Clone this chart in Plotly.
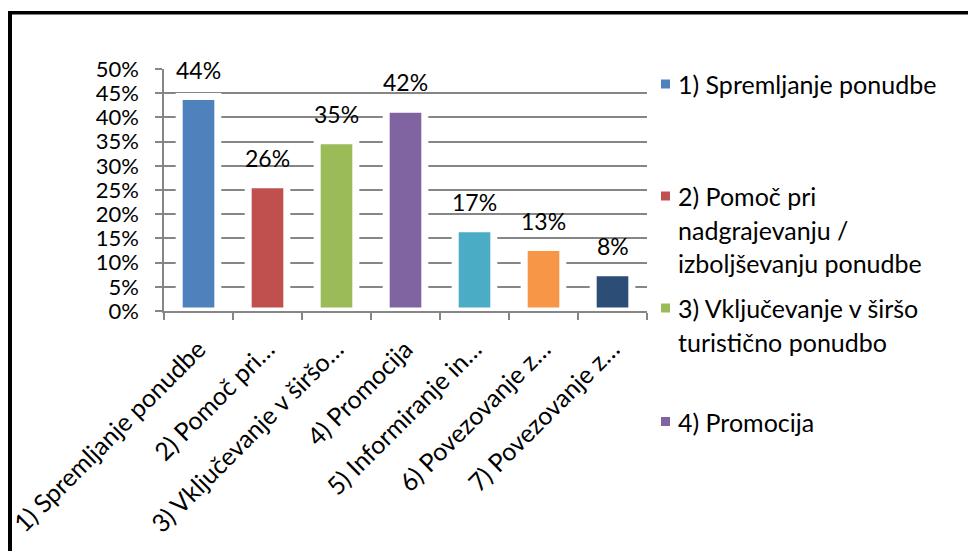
import plotly.graph_objects as go

# ---- data ----
categories = [
    "1) Spremljanje ponudbe",
    "2) Pomoč pri nadgrajevanju / izboljševanju ponudbe",
    "3) Vključevanje v širšo turistično ponudbo",
    "4) Promocija",
    "5) Informiranje in…",
    "6) Povezovanje z…",
    "7) Povezovanje z…",
]
tick_labels = [
    "1) Spremljanje ponudbe",
    "2) Pomoč pri…",
    "3) Vključevanje v širšo…",
    "4) Promocija",
    "5) Informiranje in…",
    "6) Povezovanje z…",
    "7) Povezovanje z…",
]
values = [0.443, 0.261, 0.352, 0.417, 0.170, 0.131, 0.079]
colors = ["#4F81BD", "#C0504D", "#9BBB59", "#8064A2", "#4BACC6", "#F79646", "#2C4D75"]
legend_lines = [
    ["1) Spremljanje ponudbe"],
    ["2) Pomoč pri", "nadgrajevanju /", "izboljševanju ponudbe"],
    ["3) Vključevanje v širšo", "turistično ponudbo"],
    ["4) Promocija"],
]
y_ticks = [i * 0.05 for i in range(11)]
y_tick_text = [f"{i*5}%" for i in range(11)]

# ---- layout geometry (page body adds an 8px offset) ----
OFF = 8
W, H = 976, 551
ML, MT = 164 - OFF, 69 - OFF
PW, PH = 483, 242
MR = W - ML - PW
MB = H - MT - PH
FONT = "Lato"
FS_Y = 22
FS_X = 25
FS_LBL = 23
FS_LEG = 25
GRID = "#868686"


def px(x):
    return (x - OFF - ML) / PW


def py(y):
    return (MT + PH - (y - OFF)) / PH


fig = go.Figure()
fig.add_trace(go.Bar(
    x=categories,
    y=values,
    marker=dict(color=colors, line=dict(color="white", width=7)),
    width=0.56,
    showlegend=False,
    hoverinfo="x+y",
))

annotations = []
for c, v in zip(categories, values):
    annotations.append(dict(
        x=c, y=v, xref="x", yref="y", text=f"{round(v*100):d}%",
        showarrow=False, yanchor="bottom", yshift=11,
        font=dict(family=FONT, size=FS_LBL, color="black"),
    ))

shapes = []
# manual legend (Excel shows only first four entries)
legend_first_y = [84, 196, 308, 421.5]
line_step = 33.5
for i, lines in enumerate(legend_lines):
    y0 = legend_first_y[i]
    shapes.append(dict(
        type="rect", xref="paper", yref="paper",
        x0=px(661), x1=px(670), y0=py(y0 - 4.5), y1=py(y0 + 4.5),
        fillcolor=colors[i], line=dict(width=0),
    ))
    for j, t in enumerate(lines):
        annotations.append(dict(
            x=px(676), y=py(y0 + j * line_step), xref="paper", yref="paper",
            text=t, showarrow=False, xanchor="left", yanchor="middle",
            font=dict(family=FONT, size=FS_LEG, color="black"),
        ))

# outer frame (top and left edges visible)
shapes.append(dict(type="line", xref="paper", yref="paper",
                   x0=px(8), x1=px(W + 10), y0=py(12.7), y1=py(12.7),
                   line=dict(color="black", width=3.5)))
shapes.append(dict(type="line", xref="paper", yref="paper",
                   x0=px(10), x1=px(10), y0=py(11), y1=py(H + 10),
                   line=dict(color="black", width=4)))

fig.update_layout(
    width=W, height=H,
    margin=dict(l=ML, r=MR, t=MT, b=MB, autoexpand=False),
    paper_bgcolor="white", plot_bgcolor="white",
    font=dict(family=FONT, size=FS_X, color="black"),
    showlegend=False,
    annotations=annotations,
    shapes=shapes,
)
fig.update_xaxes(
    type="category",
    automargin=False,
    tickvals=categories, ticktext=tick_labels,
    tickangle=-45,
    tickson="boundaries",
    ticks="outside", ticklen=7, tickcolor=GRID, tickwidth=1.5,
    ticklabelstandoff=12,
    showline=True, linecolor=GRID, linewidth=1.5,
    showgrid=False,
    tickfont=dict(family=FONT, size=FS_X, color="black"),
)
fig.update_yaxes(
    automargin=False,
    range=[0, 0.5],
    tickvals=y_ticks, ticktext=y_tick_text,
    ticks="outside", ticklen=7, tickcolor=GRID, tickwidth=1.5,
    ticklabelstandoff=12,
    showline=True, linecolor=GRID, linewidth=1.5,
    showgrid=True, gridcolor=GRID, gridwidth=1.5,
    zeroline=False,
    tickfont=dict(family=FONT, size=FS_Y, color="black"),
)

fig.write_html("out.html")
